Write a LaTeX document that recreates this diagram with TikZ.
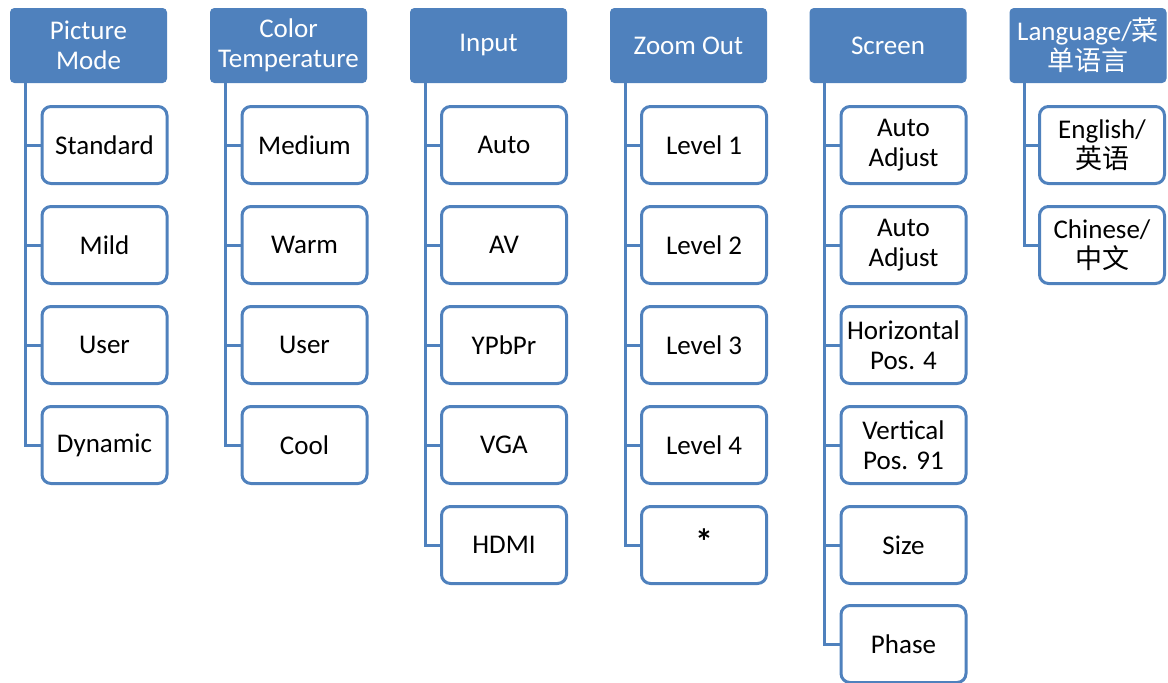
\documentclass[tikz,border=0pt]{standalone}
\usepackage{fontspec}
\setmainfont{Carlito}
\newfontfamily\cjk{Noto Sans CJK SC}
\definecolor{hdr}{HTML}{4F81BD}
\begin{document}
\begin{tikzpicture}[x=1pt,y=-1pt,
  hdrbox/.style={draw=hdr, fill=hdr, rounded corners=4pt, minimum width=156pt, minimum height=74pt,
    text=white, align=center, font=\fontsize{27}{30}\selectfont, inner sep=0pt, line width=1pt},
  itembox/.style={draw=hdr, fill=white, line width=3pt, rounded corners=9pt, minimum width=125pt,
    minimum height=77pt, align=center, font=\fontsize{27}{30}\selectfont, inner sep=0pt},
  tree/.style={draw=hdr, line width=3pt}]
\useasboundingbox (0,0) rectangle (1168,683);
% headers
\node[hdrbox] (h1) at (88.5,45.5) {Picture\\Mode};
\node[hdrbox] (h2) at (288.5,45.5) {Color\\Temperature};
\node[hdrbox] (h3) at (488.5,45.5) {Input};
\node[hdrbox] (h4) at (688.5,45.5) {Zoom Out};
\node[hdrbox] (h5) at (888,45.5) {Screen};
\node[hdrbox] (h6) at (1088,45.5) {Language/{\cjk 菜}\\{\cjk 单语言}};
% column 1
\node[itembox] (a1) at (104.5,145) {Standard};
\node[itembox] (a2) at (104.5,245) {Mild};
\node[itembox] (a3) at (104.5,345) {User};
\node[itembox] (a4) at (104.5,445) {Dynamic};
% column 2
\node[itembox] (b1) at (304.5,145) {Medium};
\node[itembox] (b2) at (304.5,245) {Warm};
\node[itembox] (b3) at (304.5,345) {User};
\node[itembox] (b4) at (304.5,445) {Cool};
% column 3
\node[itembox] (c1) at (504,145) {Auto};
\node[itembox] (c2) at (504,245) {AV};
\node[itembox] (c3) at (504,345) {YPbPr};
\node[itembox] (c4) at (504,445) {VGA};
\node[itembox] (c5) at (504,545) {HDMI};
% column 4
\node[itembox] (d1) at (704,145) {Level 1};
\node[itembox] (d2) at (704,245) {Level 2};
\node[itembox] (d3) at (704,345) {Level 3};
\node[itembox] (d4) at (704,445) {Level 4};
\node[itembox] (d5) at (704,545) {\raisebox{6pt}{\fontsize{36}{36}\selectfont\bfseries *}};
% column 5
\node[itembox] (e1) at (903.5,145) {Auto\\Adjust};
\node[itembox] (e2) at (903.5,245) {Auto\\Adjust};
\node[itembox] (e3) at (903.5,345) {Horizontal\\Pos. 4};
\node[itembox] (e4) at (903.5,445) {Vertical\\Pos. 91};
\node[itembox] (e5) at (903.5,545) {Size};
\node[itembox] (e6) at (903.5,644) {Phase};
% column 6
\node[itembox] (f1) at (1102,145) {English/\\{\cjk 英语}};
\node[itembox] (f2) at (1102,245) {Chinese/\\{\cjk 中文}};
% trees
\foreach \c in {a1,a2,a3,a4} \draw[tree] ([xshift=15pt]h1.south west) |- (\c.west);
\foreach \c in {b1,b2,b3,b4} \draw[tree] ([xshift=15pt]h2.south west) |- (\c.west);
\foreach \c in {c1,c2,c3,c4,c5} \draw[tree] ([xshift=15pt]h3.south west) |- (\c.west);
\foreach \c in {d1,d2,d3,d4,d5} \draw[tree] ([xshift=15pt]h4.south west) |- (\c.west);
\foreach \c in {e1,e2,e3,e4,e5,e6} \draw[tree] ([xshift=15pt]h5.south west) |- (\c.west);
\foreach \c in {f1,f2} \draw[tree] ([xshift=15pt]h6.south west) |- (\c.west);
\end{tikzpicture}
\end{document}
